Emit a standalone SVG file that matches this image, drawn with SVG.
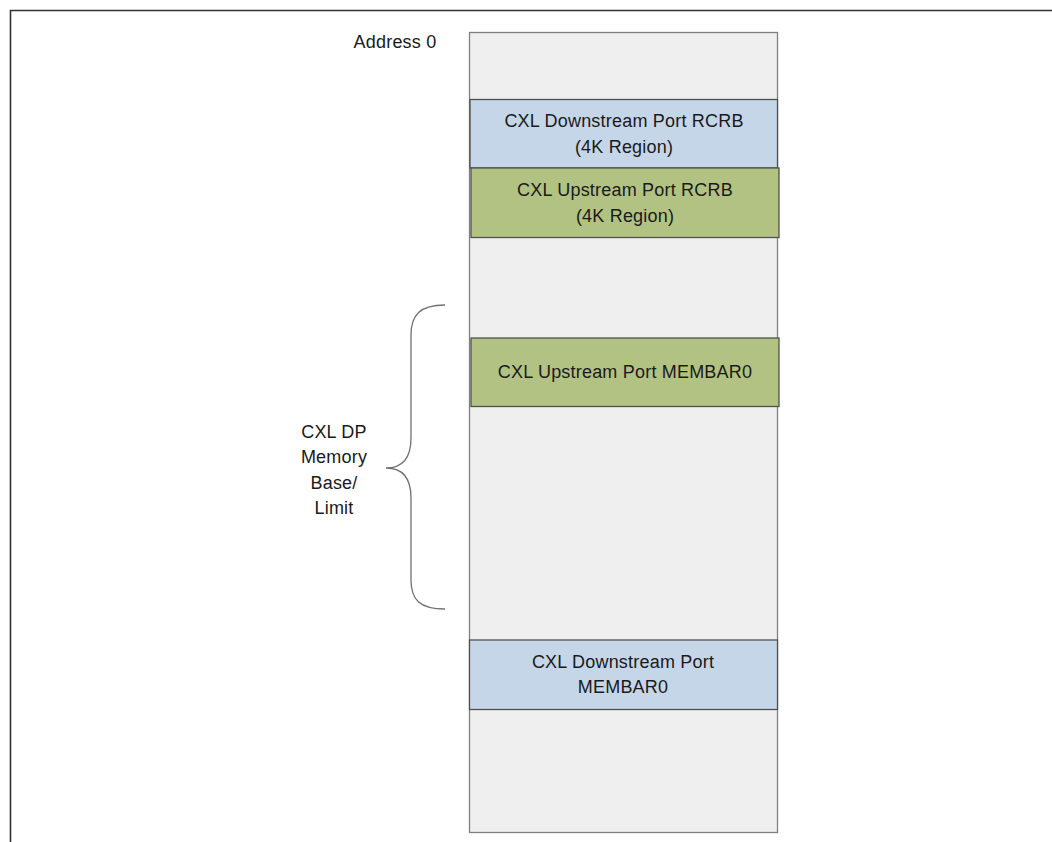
<svg xmlns="http://www.w3.org/2000/svg" width="1052" height="842" viewBox="0 0 1052 842">
<style>
text{font-family:"Liberation Sans",Arial,sans-serif;font-size:18px;letter-spacing:0.2px;fill:#1a1a1a;text-anchor:middle}
.col{fill:#efefef;stroke:#808080;stroke-width:1.3}
.blue{fill:#c5d6e8;stroke:#505050;stroke-width:1.3}
.green{fill:#b2c283;stroke:#505050;stroke-width:1.3}
</style>
<rect width="1052" height="842" fill="#ffffff"/>
<path d="M10.5 842 V10.5 H1052" fill="none" stroke="#333" stroke-width="1.6"/>
<g id="column"><rect class="col" x="469.5" y="32.5" width="308" height="800"/></g>
<text x="395" y="48">Address 0</text>
<g id="ds-rcrb"><rect class="blue" x="470" y="99.5" width="307.5" height="68.5"/>
<text x="624" y="127">CXL Downstream Port RCRB</text><text x="624" y="153">(4K Region)</text></g>
<g id="us-rcrb"><rect class="green" x="471" y="168" width="308" height="69.5"/>
<text x="625" y="196">CXL Upstream Port RCRB</text><text x="625" y="222">(4K Region)</text></g>
<g id="us-membar"><rect class="green" x="471" y="338" width="308" height="68.5"/>
<text x="625" y="378">CXL Upstream Port MEMBAR0</text></g>
<g id="ds-membar"><rect class="blue" x="469.5" y="640" width="308" height="69.5"/>
<text x="623" y="668">CXL Downstream Port</text><text x="623" y="693">MEMBAR0</text></g>
<g id="connectors">
<path d="M445 305 C420 305 411 315 411 335 V438 C411 458 403 468 386 468 C403 468 411 478 411 498 V580 C411 600 420 609 445 609" fill="none" stroke="#707070" stroke-width="1.3"/>
</g>
<g id="label"><text x="334" y="438">CXL DP</text><text x="334" y="463">Memory</text><text x="334" y="489">Base/</text><text x="334" y="514">Limit</text></g>
</svg>
